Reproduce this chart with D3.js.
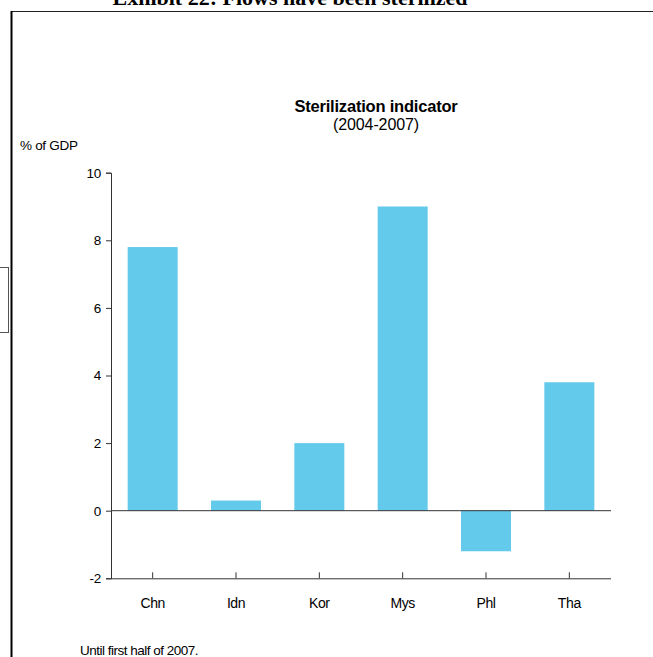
<!DOCTYPE html>
<html>
<head>
<meta charset="utf-8">
<script src="https://cdn.jsdelivr.net/npm/d3@7"></script>
<style>
  html, body { margin: 0; padding: 0; background: #fff; }
  svg { display: block; }
  text { font-family: "Liberation Sans", Arial, sans-serif; fill: #000; }
</style>
</head>
<body>
<svg id="chart" width="653" height="657"></svg>
<script>
// Sterilization indicator, % of GDP, 2004-2007
const categories = ["Chn", "Idn", "Kor", "Mys", "Phl", "Tha"];
const values = [7.8, 0.3, 2.0, 9.0, -1.2, 3.8];
const yTicks = [-2, 0, 2, 4, 6, 8, 10];

const svg = d3.select("#chart");
const W = 653, H = 657;

// Page frame: rule under the exhibit heading, thick left border, side marker box
svg.append("line").attr("x1", 11).attr("x2", W).attr("y1", 11.5).attr("y2", 11.5)
  .attr("stroke", "#222").attr("stroke-width", 1.2);
svg.append("line").attr("x1", 11.5).attr("x2", 11.5).attr("y1", 11).attr("y2", H)
  .attr("stroke", "#000").attr("stroke-width", 2);
svg.append("rect").attr("x", -1).attr("y", 267.5).attr("width", 9.5).attr("height", 65)
  .attr("fill", "none").attr("stroke", "#555").attr("stroke-width", 1);

// Exhibit heading
svg.append("text")
  .attr("x", 290).attr("y", 5)
  .attr("text-anchor", "middle")
  .style("font-family", "'Liberation Serif', 'Times New Roman', serif")
  .style("font-weight", "bold")
  .style("font-size", "22px")
  .text("Exhibit 22: Flows have been sterilized");

// Chart area
const x0 = 111, x1 = 611;
const x = d3.scaleBand().domain(categories).range([x0, x1]).paddingInner(0.4).paddingOuter(0.2);
const y = d3.scaleLinear().domain([-2, 10]).range([578.3, 172.7]);

// Chart title
svg.append("text").attr("x", 376).attr("y", 112).attr("text-anchor", "middle")
  .style("font-weight", "bold").style("font-size", "16.5px").style("letter-spacing", "-0.2px")
  .text("Sterilization indicator");
svg.append("text").attr("x", 376).attr("y", 130).attr("text-anchor", "middle")
  .style("font-size", "16px").style("letter-spacing", "-0.1px")
  .text("(2004-2007)");

// Unit label
svg.append("text").attr("x", 20).attr("y", 150)
  .style("font-size", "13.5px").style("letter-spacing", "-0.3px")
  .text("% of GDP");

// Bars
svg.append("g").selectAll("rect").data(categories).join("rect")
  .attr("x", d => x(d))
  .attr("width", x.bandwidth())
  .attr("y", (d, i) => y(Math.max(0, values[i])))
  .attr("height", (d, i) => Math.abs(y(values[i]) - y(0)))
  .attr("fill", "#63CAEB");

// Zero line
svg.append("line").attr("x1", x0).attr("x2", x1).attr("y1", y(0)).attr("y2", y(0))
  .attr("stroke", "#333").attr("stroke-width", 1);

// Y axis
const yAxis = svg.append("g").attr("transform", `translate(${x0},0)`)
  .call(d3.axisLeft(y).tickValues(yTicks).tickSize(5).tickPadding(5).tickFormat(d => String(d)));
yAxis.select(".domain").attr("stroke", "#333");
yAxis.selectAll(".tick line").attr("stroke", "#333");
yAxis.selectAll("text").style("font-size", "13.5px").style("letter-spacing", "-0.2px")
  .style("font-family", "'Liberation Sans', Arial, sans-serif");

// X axis along the bottom, ticks pointing up
const xAxis = svg.append("g").attr("transform", `translate(0,${y(-2)})`)
  .call(d3.axisBottom(x).tickSize(0).tickPadding(20));
xAxis.select(".domain").attr("stroke", "#333").attr("d", `M${x0},0.5H${x1}`);
xAxis.selectAll(".tick").append("line").attr("y1", 0).attr("y2", -6).attr("stroke", "#333");
xAxis.selectAll("text").style("font-size", "14px").style("letter-spacing", "-0.4px")
  .style("font-family", "'Liberation Sans', Arial, sans-serif").attr("fill", "#000");

// Footnote
svg.append("text").attr("x", 80).attr("y", 655)
  .style("font-size", "13.5px").style("letter-spacing", "-0.5px")
  .text("Until first half of 2007.");
</script>
</body>
</html>
